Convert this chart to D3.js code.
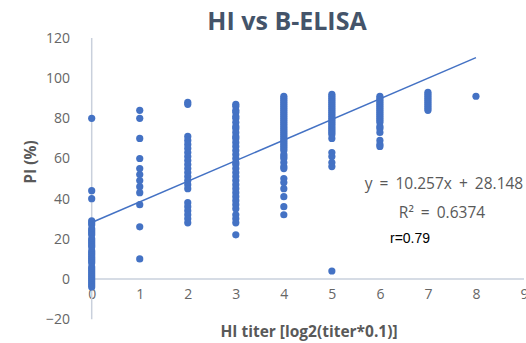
<!DOCTYPE html>
<html>
<head>
<meta charset="utf-8">
<script src="https://cdn.jsdelivr.net/npm/d3@7"></script>
<style>
  body { margin: 0; background: #fff; }
  #chart { width: 526px; height: 343px; }
  .axis text { font-family: 'Open Sans', sans-serif; font-size: 14px; fill: #666666; }
</style>
</head>
<body>
<div id="chart"></div>
<script>
// PI (%) values read per HI titer column
const col0 = [80, 44, 40, 29, 28, 27, 25, 24, 23, 22, 20, 19, 18, 17, 16, 14, 13, 12, 11, 10, 9, 8, 6, 5, 4, 3, 2, 1, 0, -1, -2, -3, -4];
const col1 = [84, 80, 70, 60, 55, 52, 49, 46, 43, 37, 26, 10];
const col2 = [88, 87, 71, 69, 67, 65, 63, 61, 59, 57, 55, 53, 51, 49, 47, 45, 38, 36, 34, 32, 30, 28];
const col3 = [87, 86, 84, 83, 81, 80, 78, 76, 75, 73, 71, 70, 68, 66, 64, 62, 60, 58, 57, 55, 53, 51, 49, 47, 45, 43, 41, 39, 37, 35, 32, 30, 28, 22];
const col4 = [91, 90, 89, 88, 87, 86, 85, 84, 83, 82, 81, 80, 79, 78, 77, 76, 75, 74, 73, 72, 71, 70, 69, 68, 67, 66, 65, 64, 62, 61, 60, 58, 56, 55, 50, 48, 45, 41, 36, 32];
const col5 = [92, 91, 90, 89, 88, 87, 86, 85, 84, 83, 82, 81, 80, 79, 78, 77, 76, 75, 74, 73, 72, 70, 63, 61, 58, 56, 4];
const col6 = [91, 90, 89, 88, 87, 86, 85, 84, 83, 82, 81, 80, 79, 78, 76, 75, 73, 69, 67, 66];
const col7 = [93, 92, 91, 90, 89, 88, 87, 86, 85, 84];
const col8 = [91];
const columns = [col0, col1, col2, col3, col4, col5, col6, col7, col8];

const xTicks = [0, 1, 2, 3, 4, 5, 6, 7, 8, 9];
const yTicks = [-20, 0, 20, 40, 60, 80, 100, 120];
const slope = 10.257, intercept = 28.148;
const trendX = [0, 8];

var width = 526, height = 343;
var x = d3.scaleLinear().domain([0, 9]).range([91.7, 524]);
var y = d3.scaleLinear().domain([-20, 120]).range([319.2, 38]);

var svg = d3.select('#chart')
  .append('svg')
  .attr('width', width)
  .attr('height', height);

// flatten into points
var points = [];
columns.forEach(function (vals, i) {
  vals.forEach(function (v) { points.push({x: i, y: v}); });
});

// Title
svg.append('text')
  .attr('x', 287)
  .attr('y', 30)
  .attr('text-anchor', 'middle')
  .style('font-family', "'Open Sans', sans-serif")
  .style('font-weight', 'bold')
  .style('font-size', '25px')
  .style('fill', '#44546A')
  .text('HI vs B-ELISA');

// Y axis (labels only, line drawn at x = 0)
var yAxis = d3.axisLeft(y).tickValues(yTicks).tickSize(0).tickPadding(0);
var gy = svg.append('g')
  .attr('class', 'axis')
  .attr('transform', 'translate(70,0)')
  .call(yAxis);
gy.select('.domain').remove();

// X axis labels
var xAxis = d3.axisBottom(x).tickValues(xTicks).tickSize(0).tickPadding(0);
var gx = svg.append('g')
  .attr('class', 'axis')
  .attr('transform', 'translate(0,' + (y(0) + 15) + ')')
  .call(xAxis);
gx.select('.domain').remove();
gx.selectAll('text').attr('dy', '0.32em');

// axis lines
svg.append('line')
  .attr('x1', x(0)).attr('x2', x(0))
  .attr('y1', y(120)).attr('y2', y(-20))
  .style('stroke', '#C9D0DC')
  .style('stroke-width', 1.5);

svg.append('line')
  .attr('x1', x(0)).attr('x2', x(9))
  .attr('y1', y(0)).attr('y2', y(0))
  .style('stroke', '#C9D0DC')
  .style('stroke-width', 1.5);

// Points
svg.selectAll('circle.pt')
  .data(points)
  .enter()
  .append('circle')
  .attr('class', 'pt')
  .attr('cx', function (d) { return x(d.x); })
  .attr('cy', function (d) { return y(d.y); })
  .attr('r', 3.6)
  .style('fill', '#4472C4');

// Trendline
var trend = d3.line()
  .x(function (d) { return x(d); })
  .y(function (d) { return y(slope * d + intercept); });

svg.append('path')
  .attr('d', trend(trendX))
  .style('stroke', '#4472C4')
  .style('stroke-width', 1.5)
  .style('fill', 'none');

// Axis titles
svg.append('text')
  .attr('transform', 'translate(36,162) rotate(-90)')
  .attr('text-anchor', 'middle')
  .style('font-family', "'Open Sans', sans-serif")
  .style('font-weight', 'bold')
  .style('font-size', '15.5px')
  .style('fill', '#595959')
  .text('PI (%)');

svg.append('text')
  .attr('x', 309)
  .attr('y', 337)
  .attr('text-anchor', 'middle')
  .style('font-family', "'Open Sans', sans-serif")
  .style('font-weight', 'bold')
  .style('font-size', '15.5px')
  .style('fill', '#595959')
  .text('HI titer [log2(titer*0.1)]');

// Trendline label
svg.append('text')
  .attr('x', 444)
  .attr('y', 189)
  .attr('text-anchor', 'middle')
  .style('font-family', "'Open Sans', sans-serif")
  .style('font-size', '15.5px')
  .style('word-spacing', '3px')
  .style('fill', '#595959')
  .text('y = ' + slope + 'x + ' + intercept);

svg.append('text')
  .attr('x', 442)
  .attr('y', 218)
  .attr('text-anchor', 'middle')
  .style('font-family', "'Open Sans', sans-serif")
  .style('font-size', '15.5px')
  .style('word-spacing', '3px')
  .style('fill', '#595959')
  .text('R² = 0.6374');

svg.append('text')
  .attr('x', 390)
  .attr('y', 243)
  .style('font-family', "'Liberation Sans', Arial, sans-serif")
  .style('font-size', '14px')
  .style('fill', '#000')
  .text('r=0.79');
</script>
</body>
</html>
